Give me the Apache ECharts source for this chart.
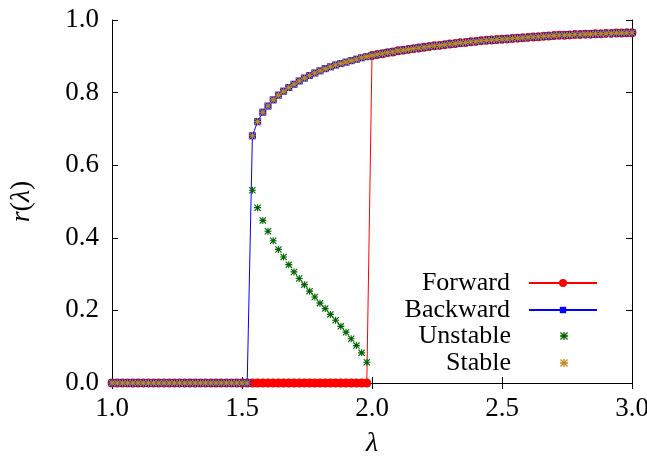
<!DOCTYPE html>
<html>
<head>
<meta charset="utf-8">
<script src="https://cdn.jsdelivr.net/npm/echarts@6/dist/echarts.min.js"></script>
<style>
  html, body { margin: 0; padding: 0; background: #ffffff; }
  #chart { width: 647px; height: 461px; }
</style>
</head>
<body>
<div id="chart"></div>
<script>
// Coupling values on the incoherent (r = 0) branch swept forward
const lambdaLow = [
  1.00, 1.02, 1.04, 1.06, 1.08, 1.10, 1.12, 1.14, 1.16, 1.18,
  1.20, 1.22, 1.24, 1.26, 1.28, 1.30, 1.32, 1.34, 1.36, 1.38,
  1.40, 1.42, 1.44, 1.46, 1.48, 1.50, 1.52, 1.54, 1.56, 1.58,
  1.60, 1.62, 1.64, 1.66, 1.68, 1.70, 1.72, 1.74, 1.76, 1.78,
  1.80, 1.82, 1.84, 1.86, 1.88, 1.90, 1.92, 1.94, 1.96, 1.98
];

// Synchronised (upper) branch
const lambdaHigh = [
  1.54, 1.56, 1.58, 1.60, 1.62, 1.64, 1.66, 1.68, 1.70, 1.72,
  1.74, 1.76, 1.78, 1.80, 1.82, 1.84, 1.86, 1.88, 1.90, 1.92,
  1.94, 1.96, 1.98, 2.00, 2.02, 2.04, 2.06, 2.08, 2.10, 2.12,
  2.14, 2.16, 2.18, 2.20, 2.22, 2.24, 2.26, 2.28, 2.30, 2.32,
  2.34, 2.36, 2.38, 2.40, 2.42, 2.44, 2.46, 2.48, 2.50, 2.52,
  2.54, 2.56, 2.58, 2.60, 2.62, 2.64, 2.66, 2.68, 2.70, 2.72,
  2.74, 2.76, 2.78, 2.80, 2.82, 2.84, 2.86, 2.88, 2.90, 2.92,
  2.94, 2.96, 2.98, 3.00
];
const rHigh = [
  0.681, 0.720, 0.746, 0.763, 0.780, 0.793, 0.804, 0.814, 0.823, 0.832,
  0.840, 0.847, 0.854, 0.860, 0.866, 0.871, 0.876, 0.880, 0.884, 0.888,
  0.892, 0.896, 0.899, 0.902, 0.905, 0.907, 0.910, 0.912, 0.915, 0.917,
  0.919, 0.921, 0.923, 0.925, 0.927, 0.929, 0.930, 0.932, 0.934, 0.935,
  0.937, 0.938, 0.940, 0.941, 0.943, 0.944, 0.945, 0.946, 0.947, 0.948,
  0.949, 0.950, 0.951, 0.952, 0.953, 0.954, 0.955, 0.956, 0.957, 0.958,
  0.958, 0.959, 0.960, 0.960, 0.961, 0.961, 0.962, 0.962, 0.963, 0.963,
  0.964, 0.964, 0.965, 0.965
];

// Unstable partially synchronised branch
const lambdaUnstable = [
  1.54, 1.56, 1.58, 1.60, 1.62, 1.64, 1.66, 1.68, 1.70, 1.72,
  1.74, 1.76, 1.78, 1.80, 1.82, 1.84, 1.86, 1.88, 1.90, 1.92,
  1.94, 1.96, 1.98
];
const rUnstable = [
  0.531, 0.483, 0.448, 0.418, 0.392, 0.368, 0.347, 0.326, 0.306, 0.288,
  0.271, 0.253, 0.237, 0.220, 0.205, 0.189, 0.173, 0.156, 0.140, 0.122,
  0.103, 0.083, 0.057
];

// Where the sweeps leave their branch
const forwardJumpAt = 2.00;
const backwardDropBelow = 1.54;

const upper = lambdaHigh.map((l, i) => [l, rHigh[i]]);

// Forward sweep: zero until the jump, then the upper branch
const forward = lambdaLow.filter(l => l < forwardJumpAt - 1e-9).map(l => [l, 0])
  .concat(upper.filter(p => p[0] >= forwardJumpAt - 1e-9));

// Backward sweep: upper branch from the right, then drop to zero
const backward = upper.slice().reverse()
  .concat(lambdaLow.filter(l => l < backwardDropBelow - 1e-9).reverse().map(l => [l, 0]));

const unstable = lambdaUnstable.map((l, i) => [l, rUnstable[i]]);
const stable = backward.map(p => [p[0], p[1]]);

const FONT = '"Liberation Serif", "DejaVu Serif", serif';
// Eight-armed asterisk point
const STAR = 'path://M4.2 0L5.8 0L5.8 10L4.2 10Z M0 4.2L10 4.2L10 5.8L0 5.8Z ' +
             'M0 1.13L1.13 0L10 8.87L8.87 10Z M8.87 0L10 1.13L1.13 10L0 8.87Z';

const RED = '#ff0000';
const BLUE = '#0000ff';
const GREEN = '#006400';
const GOLD = '#c08a1c';

const chart = echarts.init(document.getElementById('chart'), null, { renderer: 'canvas' });

function legendFor(name, top, right, itemHeight) {
  return {
    data: [name],
    right: right,
    top: top,
    orient: 'vertical',
    align: 'right',
    itemWidth: 68,
    itemHeight: itemHeight,
    selectedMode: false,
    padding: 0,
    textStyle: { fontFamily: FONT, fontSize: 26, color: '#000', padding: [0, 14, 0, 0] }
  };
}

const axisCommon = {
  axisLine: { show: true, lineStyle: { color: '#000', width: 1 } },
  axisTick: { show: true, inside: true, length: 6, lineStyle: { color: '#000', width: 1 } },
  splitLine: { show: false }
};

chart.setOption({
  animation: false,
  backgroundColor: '#ffffff',
  grid: {
    left: 112, right: 15, top: 20, bottom: 78,
    containLabel: false, outerBoundsMode: 'none'
  },
  legend: [
    legendFor('Forward', 270, 49, 10),
    legendFor('Backward', 297, 49, 8),
    legendFor('Unstable', 323, 79, 8),
    legendFor('Stable', 350, 79, 8)
  ],
  xAxis: [
    Object.assign({
      type: 'value', min: 1.0, max: 3.0, interval: 0.5, position: 'bottom',
      name: 'λ', nameLocation: 'middle', nameGap: 47,
      nameTextStyle: { fontFamily: FONT, fontSize: 28, fontStyle: 'italic', color: '#000' },
      axisLabel: {
        margin: 12, fontFamily: FONT, fontSize: 27, color: '#000',
        formatter: v => v.toFixed(1)
      }
    }, axisCommon),
    Object.assign({
      type: 'value', min: 1.0, max: 3.0, interval: 0.5, position: 'top',
      axisLabel: { show: false }
    }, axisCommon)
  ],
  yAxis: [
    Object.assign({
      type: 'value', min: 0, max: 1, interval: 0.2, position: 'left',
      name: '{i|r}{n|(}{i|λ}{n|)}', nameLocation: 'middle', nameGap: 76, nameRotate: 90,
      nameTextStyle: {
        rich: {
          i: { fontFamily: FONT, fontSize: 28, fontStyle: 'italic', color: '#000' },
          n: { fontFamily: FONT, fontSize: 28, color: '#000' }
        }
      },
      axisLabel: {
        margin: 13, fontFamily: FONT, fontSize: 27, color: '#000',
        formatter: v => v.toFixed(1)
      }
    }, axisCommon),
    Object.assign({
      type: 'value', min: 0, max: 1, interval: 0.2, position: 'right',
      axisLabel: { show: false }
    }, axisCommon)
  ],
  series: [
    {
      name: 'Forward', type: 'line', data: forward, z: 2,
      symbol: 'circle', symbolSize: 9, showAllSymbol: true, clip: false,
      itemStyle: { color: RED }, lineStyle: { color: RED, width: 1 }
    },
    {
      name: 'Backward', type: 'line', data: backward, z: 3,
      symbol: 'rect', symbolSize: 7, showAllSymbol: true, clip: false,
      itemStyle: { color: BLUE }, lineStyle: { color: BLUE, width: 1 }
    },
    {
      name: 'Unstable', type: 'scatter', data: unstable, z: 4,
      symbol: STAR, symbolSize: 7, clip: false,
      itemStyle: { color: GREEN, opacity: 1 }
    },
    {
      name: 'Stable', type: 'scatter', data: stable, z: 5,
      symbol: STAR, symbolSize: 7, clip: false,
      itemStyle: { color: GOLD, opacity: 1 }
    }
  ]
});
</script>
</body>
</html>
